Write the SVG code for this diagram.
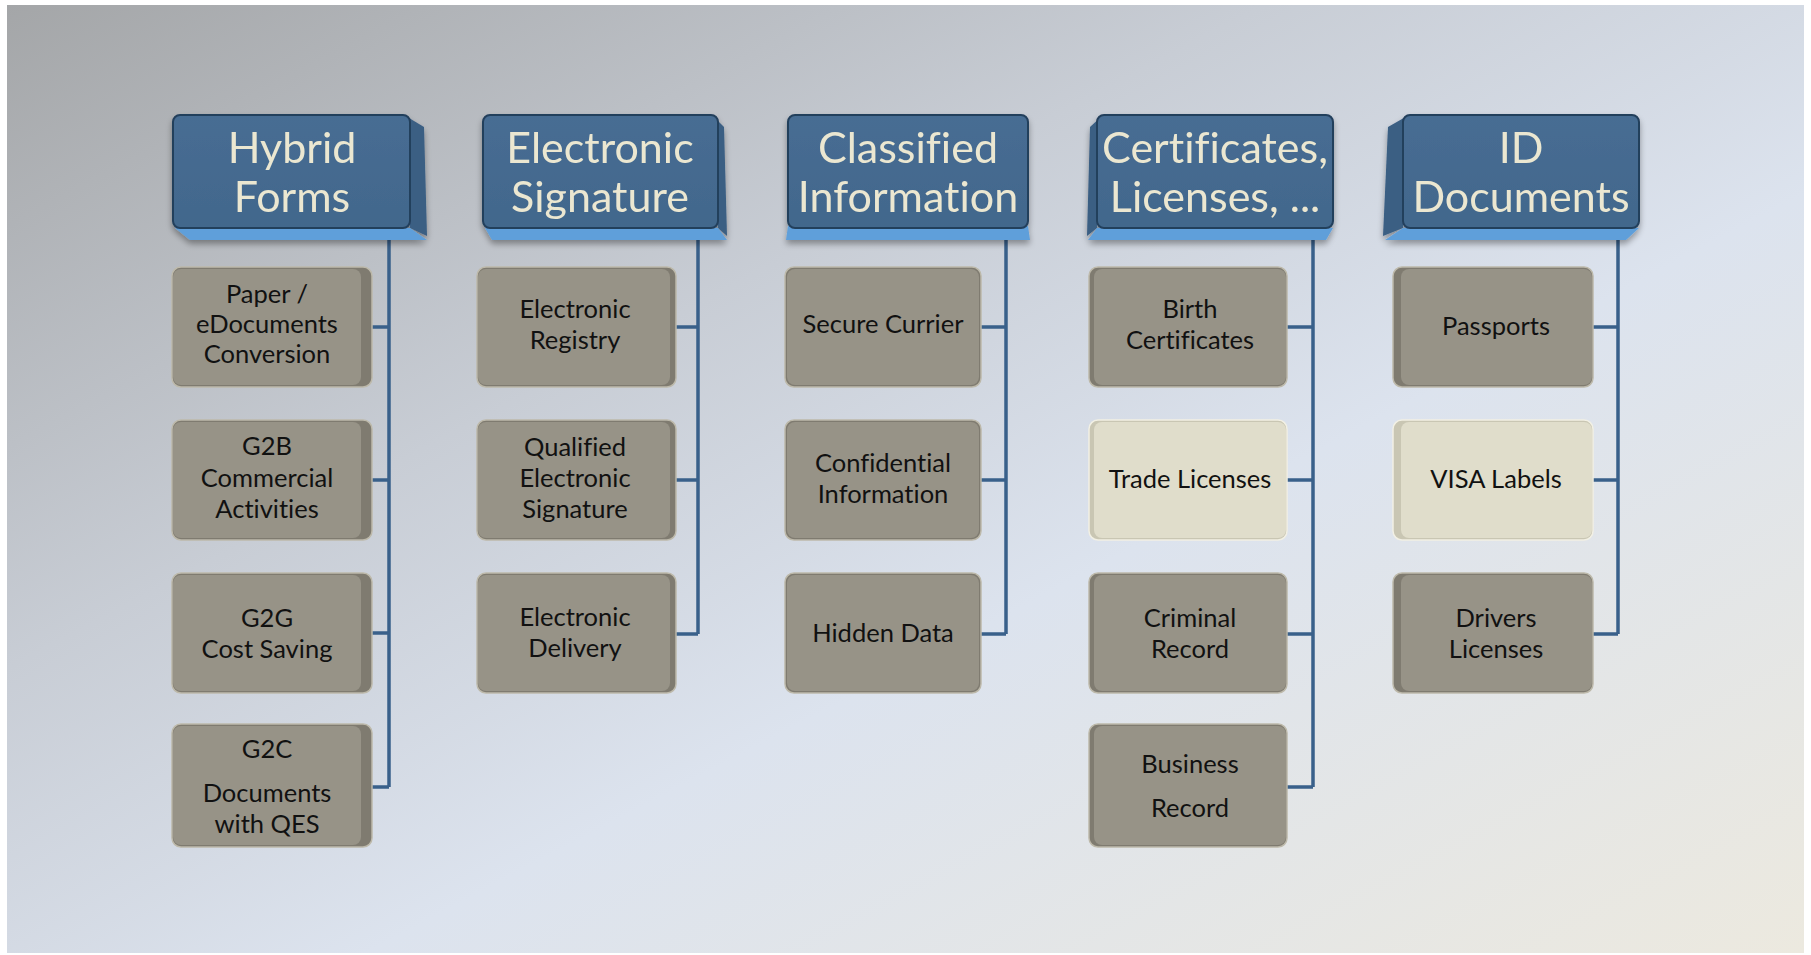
<svg xmlns="http://www.w3.org/2000/svg" width="1811" height="955" viewBox="0 0 1811 955">
<defs>
<linearGradient id="bg" x1="0" y1="0" x2="1" y2="1">
<stop offset="0" stop-color="#a4a6a8"/>
<stop offset="0.35" stop-color="#c8cdd5"/>
<stop offset="0.6" stop-color="#dce3ee"/>
<stop offset="1" stop-color="#ece9df"/>
</linearGradient>
<linearGradient id="face" x1="0" y1="0" x2="0" y2="1">
<stop offset="0" stop-color="#476d93"/>
<stop offset="1" stop-color="#42678c"/>
</linearGradient>
<filter id="sh" x="-10%" y="-10%" width="130%" height="140%">
<feGaussianBlur in="SourceAlpha" stdDeviation="3"/>
<feOffset dx="0" dy="4" result="b"/>
<feComponentTransfer><feFuncA type="linear" slope="0.35"/></feComponentTransfer>
<feMerge><feMergeNode/><feMergeNode in="SourceGraphic"/></feMerge>
</filter>
</defs>
<style>
.hface{fill:url(#face);stroke:#243f5c;stroke-width:2}
.hbot{fill:#5f9fda}
.hside{fill:#3a5e83}
.htxt{font-family:Lato,"Liberation Sans",sans-serif;font-size:43px;fill:#ebe7d1;text-anchor:middle;font-variant-ligatures:none}
.cout{fill:#7f7b70;stroke:#bdb9aa;stroke-width:1.5}
.cface{fill:#979387}
.cface2{fill:#e0ddcb}
.cout2{fill:#c9c6b3;stroke:#f2f0e4;stroke-width:1.5}
.ctxt{font-family:Lato,"Liberation Sans",sans-serif;font-size:25.5px;fill:#111111;text-anchor:middle;font-variant-ligatures:none}
.con{fill:none;stroke:#39608a;stroke-width:3.5}
</style>
<rect x="0" y="0" width="1811" height="955" fill="#ffffff"/>
<rect x="7" y="5" width="1797" height="948" fill="url(#bg)"/>

<g id="connectors">
<path class="con" d="M389 233 V787 M367 327 H389 M367 480 H389 M367 633 H389 M367 787 H389"/>
<path class="con" d="M698 233 V634 M676 327 H698 M676 480 H698 M676 634 H698"/>
<path class="con" d="M1006 233 V634 M981 327 H1006 M981 480 H1006 M981 634 H1006"/>
<path class="con" d="M1313 233 V787 M1287 327 H1313 M1287 480 H1313 M1287 634 H1313 M1287 787 H1313"/>
<path class="con" d="M1618 233 V634 M1593 327 H1618 M1593 480 H1618 M1593 634 H1618"/>
</g>

<!-- Headers -->
<g id="h-hybrid" filter="url(#sh)">
<polygon class="hside" points="404,115 424,127 427,236 410,228"/>
<polygon class="hbot" points="175,228 410,228 427,240 190,240"/>
<rect class="hface" x="173" y="115" width="237" height="113" rx="7"/>
<text class="htxt" x="292" y="163">Hybrid</text>
<text class="htxt" x="292" y="212">Forms</text>
</g>
<g id="h-esig" filter="url(#sh)">
<polygon class="hside" points="712,115 724,127 727,236 718,228"/>
<polygon class="hbot" points="485,228 718,228 727,240 492,240"/>
<rect class="hface" x="483" y="115" width="235" height="113" rx="7"/>
<text class="htxt" x="600" y="163">Electronic</text>
<text class="htxt" x="600" y="212">Signature</text>
</g>
<g id="h-class" filter="url(#sh)">
<polygon class="hbot" points="788,226 1028,226 1030,240 786,240"/>
<rect class="hface" x="788" y="115" width="240" height="113" rx="7"/>
<text class="htxt" x="908" y="163">Classified</text>
<text class="htxt" x="908" y="212">Information</text>
</g>
<g id="h-cert" filter="url(#sh)">
<polygon class="hside" points="1103,115 1090,127 1087,236 1097,228"/>
<polygon class="hbot" points="1097,228 1333,228 1326,240 1088,240"/>
<rect class="hface" x="1097" y="115" width="236" height="113" rx="7"/>
<text class="htxt" x="1215" y="163">Certificates,</text>
<text class="htxt" x="1215" y="212">Licenses, ...</text>
</g>
<g id="h-id" filter="url(#sh)">
<polygon class="hside" points="1409,115 1388,127 1383,236 1403,228"/>
<polygon class="hbot" points="1403,228 1639,228 1626,240 1385,240"/>
<rect class="hface" x="1403" y="115" width="236" height="113" rx="7"/>
<text class="htxt" x="1521" y="163">ID</text>
<text class="htxt" x="1521" y="212">Documents</text>
</g>

<!-- Column 1 -->
<g id="c1r1"><rect class="cout" x="172" y="267" width="200" height="120" rx="9"/><rect class="cface" x="173" y="269" width="188" height="116" rx="8"/>
<text class="ctxt" x="267" y="303">Paper /</text><text class="ctxt" x="267" y="333">eDocuments</text><text class="ctxt" x="267" y="363">Conversion</text></g>
<g id="c1r2"><rect class="cout" x="172" y="420" width="200" height="120" rx="9"/><rect class="cface" x="173" y="422" width="188" height="116" rx="8"/>
<text class="ctxt" x="267" y="455">G2B</text><text class="ctxt" x="267" y="487">Commercial</text><text class="ctxt" x="267" y="518">Activities</text></g>
<g id="c1r3"><rect class="cout" x="172" y="573" width="200" height="120" rx="9"/><rect class="cface" x="173" y="575" width="188" height="116" rx="8"/>
<text class="ctxt" x="267" y="627">G2G</text><text class="ctxt" x="267" y="658">Cost Saving</text></g>
<g id="c1r4"><rect class="cout" x="172" y="724" width="200" height="123" rx="9"/><rect class="cface" x="173" y="726" width="188" height="119" rx="8"/>
<text class="ctxt" x="267" y="758">G2C</text><text class="ctxt" x="267" y="802">Documents</text><text class="ctxt" x="267" y="833">with QES</text></g>

<!-- Column 2 -->
<g id="c2r1"><rect class="cout" x="477" y="267" width="199" height="120" rx="9"/><rect class="cface" x="478" y="269" width="192" height="116" rx="8"/>
<text class="ctxt" x="575" y="318">Electronic</text><text class="ctxt" x="575" y="349">Registry</text></g>
<g id="c2r2"><rect class="cout" x="477" y="420" width="199" height="120" rx="9"/><rect class="cface" x="478" y="422" width="192" height="116" rx="8"/>
<text class="ctxt" x="575" y="456">Qualified</text><text class="ctxt" x="575" y="487">Electronic</text><text class="ctxt" x="575" y="518">Signature</text></g>
<g id="c2r3"><rect class="cout" x="477" y="573" width="199" height="120" rx="9"/><rect class="cface" x="478" y="575" width="192" height="116" rx="8"/>
<text class="ctxt" x="575" y="626">Electronic</text><text class="ctxt" x="575" y="657">Delivery</text></g>

<!-- Column 3 -->
<g id="c3r1"><rect class="cout" x="785" y="267" width="196" height="120" rx="9"/><rect class="cface" x="787" y="269" width="192" height="116" rx="8"/>
<text class="ctxt" x="883" y="333">Secure Currier</text></g>
<g id="c3r2"><rect class="cout" x="785" y="420" width="196" height="120" rx="9"/><rect class="cface" x="787" y="422" width="192" height="116" rx="8"/>
<text class="ctxt" x="883" y="472">Confidential</text><text class="ctxt" x="883" y="503">Information</text></g>
<g id="c3r3"><rect class="cout" x="785" y="573" width="196" height="120" rx="9"/><rect class="cface" x="787" y="575" width="192" height="116" rx="8"/>
<text class="ctxt" x="883" y="642">Hidden Data</text></g>

<!-- Column 4 -->
<g id="c4r1"><rect class="cout" x="1089" y="267" width="198" height="120" rx="9"/><rect class="cface" x="1094" y="269" width="192" height="116" rx="8"/>
<text class="ctxt" x="1190" y="318">Birth</text><text class="ctxt" x="1190" y="349">Certificates</text></g>
<g id="c4r2"><rect class="cout2" x="1089" y="420" width="198" height="120" rx="9"/><rect class="cface2" x="1094" y="422" width="192" height="116" rx="8"/>
<text class="ctxt" x="1190" y="488">Trade Licenses</text></g>
<g id="c4r3"><rect class="cout" x="1089" y="573" width="198" height="120" rx="9"/><rect class="cface" x="1094" y="575" width="192" height="116" rx="8"/>
<text class="ctxt" x="1190" y="627">Criminal</text><text class="ctxt" x="1190" y="658">Record</text></g>
<g id="c4r4"><rect class="cout" x="1089" y="724" width="198" height="123" rx="9"/><rect class="cface" x="1094" y="726" width="192" height="119" rx="8"/>
<text class="ctxt" x="1190" y="773">Business</text><text class="ctxt" x="1190" y="817">Record</text></g>

<!-- Column 5 -->
<g id="c5r1"><rect class="cout" x="1393" y="267" width="200" height="120" rx="9"/><rect class="cface" x="1401" y="269" width="191" height="116" rx="8"/>
<text class="ctxt" x="1496" y="335">Passports</text></g>
<g id="c5r2"><rect class="cout2" x="1393" y="420" width="200" height="120" rx="9"/><rect class="cface2" x="1401" y="422" width="191" height="116" rx="8"/>
<text class="ctxt" x="1496" y="488">VISA Labels</text></g>
<g id="c5r3"><rect class="cout" x="1393" y="573" width="200" height="120" rx="9"/><rect class="cface" x="1401" y="575" width="191" height="116" rx="8"/>
<text class="ctxt" x="1496" y="627">Drivers</text><text class="ctxt" x="1496" y="658">Licenses</text></g>
</svg>
